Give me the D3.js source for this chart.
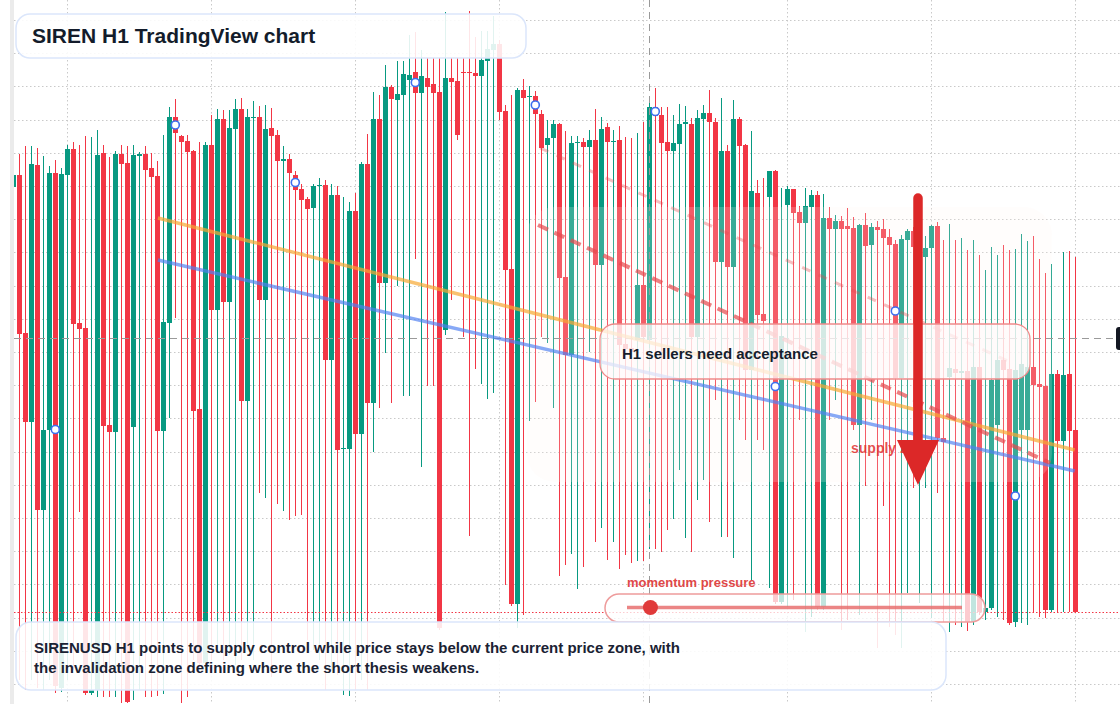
<!DOCTYPE html>
<html>
<head>
<meta charset="utf-8">
<script src="https://cdn.jsdelivr.net/npm/d3@7"></script>
<style>
  html, body { margin: 0; padding: 0; background: #fff; }
  svg { display: block; font-family: "Liberation Sans", Arial, Helvetica, sans-serif; }
</style>
</head>
<body>
<svg id="chart" width="1120" height="704"></svg>
<script>
// SIRENUSD H1 candles (price units)
const opens = [
  533,545,387,298,555,210,290,547,32,545, 571,397,392,27,30,567,295,288,566,557,
  293,565,566,552,544,289,397,603,584,579, 569,311,57,575,410,601,418,591,611,319,
  602.5,603,420,592,585,560,561,545,531,521, 512,534.5,535,360,525,271.5,271,509,286,556,
  317,601,437,633,620,625,640,648,627,642, 636,628,390,642,639,648.5,648.5,647,644,659,
  670,676,609,451,116,630,623.5,624,606,575, 582,596,443,365,577.5,578,573,580,455,593,
  578.5,580,376,372,380,435,380,613,605,578, 569,576,596,596,383,601,607,598,458,569,
  453,601,575,350,527,406,523,549,118,515, 531,508,497,513,525,113,502,491,499,494,
  492,295,495,475,493,491,483,476,342,480, 489,460,463,472,494,282,343,351,347,349,
  98,353,108,112,295,360,351,98,290,290, 353,336,334,110,346,279,346,290
];
const highs = [
  552,566,574,574,572,564,554,560,552,575, 578,575,584,583,590,575,563,569,575,574,
  575,568,574,567,559,585,613,621,585,585, 570,578,578,605,611,610,610,621,622,611,
  619,614,615,612,590,574,566,549,536,523, 536,542,540,536,534,523,518,527,558,586,
  628,625,655,635,659,659,685,688,670,662, 662,662,708,662,662,662,709,683,689,689,
  704,680,615,625,632,641,634,629,610,600, 600,597,589,584,584,582,590,611,603,597,
  590,594,583,582,587,598,624,632,613,613, 605,616,614,602,610,615,630,602,622,575,
  620,603,576,589,540,542,549,550,532,534, 531,514,532,530,529,526,513,505,504,512,
  503,496,507,497,499,501,491,480,485,491, 493,490,484,495,498,480,496,480,482,470,
  480,465,450,473,465,475,470,471,486,479, 484,461,447,456,350,468,469,463
];
const lows = [
  480,40,30,40,32,30,40,27,28,40, 50,208,25,25,23,23,23,23,17,17,
  20,30,23,23,24,26,302,402,17,23, 60,50,50,60,70,60,65,55,60,70,
  60,227,222,43,216,209,200,204,205,80, 70,60,30,50,45,25,24,30,40,30,
  268,312,367,317,434,324,324,461,253,334, 334,90,385,420,580,383,184,351,336,321,
  327,600,135,114,92,105,299,318,383,377, 312,144,155,166,131,153,368,178,192,160,
  178,151,165,157,159,159,171,171,168,190, 201,250,182,168,220,240,198,320,183,183,
  162,300,280,140,280,270,132,116,116,113, 120,300,88,103,110,110,300,320,90,100,
  290,105,234,300,72,214,93,85,72,127, 232,117,232,102,227,98,88,95,93,89,
  95,105,100,110,103,100,95,93,97,95, 108,103,102,108,108,108,108,108
];
const closes = [
  545,386,298,556,210,290,547,34,546,571, 396,391,27,30,565,294,288,566,556,18,
  565,566,550,543,289,398,603,587,578,568, 309,57,575,410,601,418,592,611,319,603,
  603.5,420,591,584,559,561,547,530,520,511, 534,535.5,360,525,270,272.5,509,286,556,317,
  601,437,633,621,626,646,645,627,644,633, 627,92,642,638,585,647.5,647.5,644,660,671,
  676,608,450,116,630,622,624.5,606,572,582, 596,442,365,577,578.5,573,580,455,591,578,
  579.5,375,371,368,435,383,613,604,577,569, 577,596,598,383,602,607,598,458,569,453,
  601,574,350,529,405,399,549,118,384,531, 507,497,514,525,113,502,491,499,491,491,
  295,495,474,493,490,482,475,342,481,489, 473,480,472,494,282,278,352,347,349,98,
  353,108,112,340,360,350,97,350,356,353, 335,333,110,346,279,345,289,108
];

// candles that carry a blue marker (every 20th bar)
const markerIdx = [7, 27, 47, 67, 87, 107, 127, 147, 167];

// drawn studies: [bar index, price]
const resistanceLine = [[24.1, 502], [176.9, 270]];
const supportLine = [[24.1, 460], [176.9, 249]];
const sellerPath = [[87.45, 495], [172.8, 257]];
const upperPath = [[87.8, 572], [166.1, 358]];
const supplyZone = { from: 85.6, to: 173.1, top: 513, bottom: 238 };
const crosshair = { index: 106, price: 382 };
const momentum = 0.07;

const titleText = "SIREN H1 TradingView chart";
const calloutText = "H1 sellers need acceptance";
const zoneText = "supply zone";
const pillText = "momentum pressure";
const noteLines = [
  "SIRENUSD H1 points to supply control while price stays below the current price zone, with",
  "the invalidation zone defining where the short thesis weakens."
];

const W = 1120, H = 704;
const UP = "#089981", DOWN = "#f23645";

const svg = d3.select("#chart");

const x = d3.scaleLinear().domain([0, opens.length - 1]).range([13.3, 1075.3]);
const y = d3.scaleLinear().domain([0, 720]).range([720, 0]);

// grid
const grid = svg.append("g");
grid.selectAll("line.h")
  .data(d3.range(700, 0, -33.2))
  .join("line")
  .attr("x1", 14).attr("x2", W)
  .attr("y1", d => Math.round(y(d)) + 0.5).attr("y2", d => Math.round(y(d)) + 0.5)
  .attr("stroke", "#c9c9c9").attr("stroke-dasharray", "1.5,2.5");
grid.selectAll("line.v")
  .data(d3.range(9, opens.length, 24))
  .join("line")
  .attr("x1", d => Math.round(x(d)) + 0.5).attr("x2", d => Math.round(x(d)) + 0.5)
  .attr("y1", 0).attr("y2", H)
  .attr("stroke", "#c9c9c9").attr("stroke-dasharray", "1.5,2.5");

// candles
const bars = opens.map((o, i) => ({ i, o, h: highs[i], l: lows[i], c: closes[i] }));
const candles = svg.append("g").attr("shape-rendering", "crispEdges");
candles.selectAll("line")
  .data(bars)
  .join("line")
  .attr("x1", d => Math.round(x(d.i)) + 0.5).attr("x2", d => Math.round(x(d.i)) + 0.5)
  .attr("y1", d => y(d.h)).attr("y2", d => y(d.l))
  .attr("stroke", d => d.c >= d.o ? UP : DOWN).attr("stroke-width", 1);
candles.selectAll("rect")
  .data(bars)
  .join("rect")
  .attr("x", d => Math.round(x(d.i)) - 2)
  .attr("width", 5)
  .attr("y", d => y(Math.max(d.o, d.c)))
  .attr("height", d => Math.max(1.5, Math.abs(y(d.o) - y(d.c))))
  .attr("fill", d => d.c >= d.o ? UP : DOWN);

// left edge strip
svg.append("rect").attr("x", 10).attr("y", 0).attr("width", 4).attr("height", H).attr("fill", "#ebebeb");

// supply zone wash
svg.append("rect")
  .attr("x", x(supplyZone.from)).attr("y", y(supplyZone.top))
  .attr("width", x(supplyZone.to) - x(supplyZone.from))
  .attr("height", y(supplyZone.bottom) - y(supplyZone.top))
  .attr("rx", 28)
  .attr("fill", "#fff6ee").attr("opacity", 0.2);

// current price line (last close)
const last = closes[closes.length - 1];
svg.append("line")
  .attr("x1", 14).attr("x2", W)
  .attr("y1", Math.round(y(last)) + 0.5).attr("y2", Math.round(y(last)) + 0.5)
  .attr("stroke", DOWN).attr("stroke-dasharray", "1.5,2");

// crosshair
svg.append("line")
  .attr("x1", 14).attr("x2", 1116)
  .attr("y1", Math.round(y(crosshair.price)) + 0.5).attr("y2", Math.round(y(crosshair.price)) + 0.5)
  .attr("stroke", "#9a9a9a").attr("stroke-dasharray", "7,5");
svg.append("line")
  .attr("x1", Math.round(x(crosshair.index)) + 0.5).attr("x2", Math.round(x(crosshair.index)) + 0.5)
  .attr("y1", 0).attr("y2", H)
  .attr("stroke", "#9a9a9a").attr("stroke-dasharray", "7,5");
svg.append("rect")
  .attr("x", 1116).attr("y", y(crosshair.price) - 11)
  .attr("width", 20).attr("height", 23).attr("rx", 3)
  .attr("fill", "#131722");

// trend lines
const line = d3.line().x(d => x(d[0])).y(d => y(d[1]));
svg.append("path").attr("d", line(resistanceLine))
  .attr("fill", "none").attr("stroke", "#f7a833").attr("stroke-width", 3.5).attr("opacity", 0.7);
svg.append("path").attr("d", line(supportLine))
  .attr("fill", "none").attr("stroke", "#4f80f2").attr("stroke-width", 3.5).attr("opacity", 0.68);
svg.append("path").attr("d", line(upperPath))
  .attr("fill", "none").attr("stroke", "#e5484d").attr("stroke-width", 3)
  .attr("stroke-dasharray", "9,9").attr("opacity", 0.35);
svg.append("path").attr("d", line(sellerPath))
  .attr("fill", "none").attr("stroke", "#e5484d").attr("stroke-width", 4)
  .attr("stroke-dasharray", "11,7").attr("opacity", 0.7);

// markers
svg.append("g").selectAll("circle")
  .data(markerIdx)
  .join("circle")
  .attr("cx", i => x(i)).attr("cy", i => y((opens[i] + closes[i]) / 2))
  .attr("r", 4)
  .attr("fill", "#fff").attr("stroke", "#3d6ff0").attr("stroke-width", 1.6);

// title card
svg.append("rect")
  .attr("x", 16).attr("y", 14).attr("width", 510).attr("height", 44).attr("rx", 14)
  .attr("fill", "#fff").attr("fill-opacity", 0.88)
  .attr("stroke", "#dbe6fb").attr("stroke-width", 1.5);
svg.append("text")
  .attr("x", 32).attr("y", 43)
  .attr("font-size", 21).attr("font-weight", 700).attr("fill", "#131c2b")
  .text(titleText);

// callout
svg.append("rect")
  .attr("x", 600).attr("y", 324).attr("width", 430).attr("height", 55).attr("rx", 15)
  .attr("fill", "#fffafa").attr("fill-opacity", 0.78)
  .attr("stroke", "#f08a8a").attr("stroke-width", 1.3);
svg.append("text")
  .attr("x", 622).attr("y", 359)
  .attr("font-size", 15).attr("font-weight", 700).attr("fill", "#151d2c")
  .text(calloutText);

// supply zone label and arrow
svg.append("text")
  .attr("x", 851).attr("y", 453)
  .attr("font-size", 14).attr("font-weight", 700).attr("fill", "#e03131").attr("fill-opacity", 0.85)
  .text(zoneText);
svg.append("line")
  .attr("x1", 918).attr("x2", 918).attr("y1", 198).attr("y2", 446)
  .attr("stroke", "#dc2828").attr("stroke-width", 9.5).attr("stroke-linecap", "round");
svg.append("path")
  .attr("d", "M897,440 L939,440 L918,485 Z")
  .attr("fill", "#dc2828");

// momentum pill
const pill = { x: 605, y: 594, w: 380, h: 28 };
const track = d3.scaleLinear().domain([0, 1]).range([627, 962]);
svg.append("text")
  .attr("x", 627).attr("y", 587)
  .attr("font-size", 13).attr("font-weight", 700).attr("fill", "#e04848")
  .text(pillText);
svg.append("rect")
  .attr("x", pill.x).attr("y", pill.y).attr("width", pill.w).attr("height", pill.h).attr("rx", 14)
  .attr("fill", "#fff").attr("fill-opacity", 0.75)
  .attr("stroke", "#ee9c9c").attr("stroke-width", 1.5);
svg.append("line")
  .attr("x1", track(0)).attr("x2", track(1)).attr("y1", 607.5).attr("y2", 607.5)
  .attr("stroke", "#e87070").attr("stroke-width", 3.5).attr("opacity", 0.85);
svg.append("circle")
  .attr("cx", track(momentum)).attr("cy", 607.5).attr("r", 7.5)
  .attr("fill", "#e03a3a");

// note card
svg.append("rect")
  .attr("x", 16).attr("y", 622).attr("width", 930).attr("height", 68).attr("rx", 15)
  .attr("fill", "#fff").attr("fill-opacity", 0.88)
  .attr("stroke", "#dbe6fb").attr("stroke-width", 1.5);
svg.append("g").selectAll("text")
  .data(noteLines)
  .join("text")
  .attr("x", 34).attr("y", (d, i) => 653 + i * 20)
  .attr("font-size", 15).attr("font-weight", 700).attr("fill", "#1a2233")
  .text(d => d);
</script>
</body>
</html>
